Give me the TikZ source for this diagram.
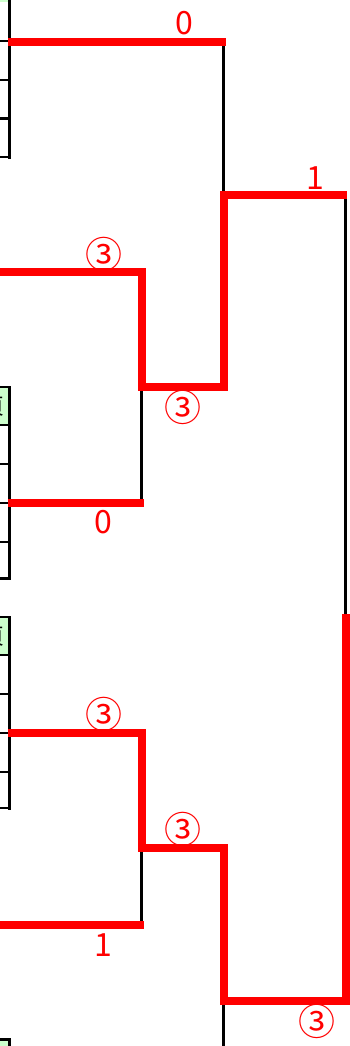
\documentclass[tikz,border=0pt]{standalone}
\usepackage{fontspec}
\newfontfamily\jpfont{Noto Sans CJK JP}
\definecolor{winred}{RGB}{255,0,0}
\definecolor{hdrgreen}{RGB}{204,255,204}
\begin{document}
\begin{tikzpicture}[x=1pt,y=-1pt,
  thinline/.style={draw=black,line width=3pt},
  winline/.style={draw=winred,line width=8pt,line join=miter},
  tickline/.style={draw=black,line width=2.6pt},
  score/.style={text=winred,font=\jpfont\fontsize{32}{32}\selectfont,inner sep=0pt,anchor=center},
  circscore/.style={text=winred,font=\jpfont\fontsize{37}{37}\selectfont,inner sep=0pt,anchor=center}]
\useasboundingbox (0,0) rectangle (350,1046);
\begin{scope}
\clip (0,0) rectangle (350,1046);
% ---- left table fragments ----
\fill[hdrgreen] (-20,-40) rectangle (8,2.5);
\fill[hdrgreen] (-20,388) rectangle (8,424);
\fill[hdrgreen] (-20,618) rectangle (8,654);
\fill[hdrgreen] (-20,1040) rectangle (8,1060);
\node[font=\jpfont\fontsize{22}{22}\selectfont,inner sep=0pt,anchor=east] (hdrA) at (4.5,407) {頁};
\node[font=\jpfont\fontsize{22}{22}\selectfont,inner sep=0pt,anchor=east] (hdrB) at (4.5,637) {頁};
\draw[thinline] (9.5,-5) -- (9.5,158.5);
\foreach \yy in {41,80,118.5,157} \draw[tickline] (-2,\yy) -- (9.5,\yy);
\draw[thinline] (9.5,386) -- (9.5,580);
\foreach \yy in {387,425,464,503,542,578.5} \draw[tickline] (-2,\yy) -- (9.5,\yy);
\draw[thinline] (9.5,616) -- (9.5,809.5);
\foreach \yy in {617,655,694,733,772,808} \draw[tickline] (-2,\yy) -- (9.5,\yy);
\draw[thinline] (9.5,1038) -- (9.5,1060);
\draw[tickline] (-2,1039.5) -- (9.5,1039.5);
% ---- bracket junctions ----
\coordinate (a1) at (8,42);
\coordinate (j1) at (223.5,42);
\coordinate (a2) at (0,272);
\coordinate (c2) at (141.5,272);
\coordinate (m1) at (141.5,387);
\coordinate (m1r) at (223.5,387);
\coordinate (s1) at (223.5,195);
\coordinate (s1r) at (347,195);
\coordinate (f1) at (345.5,195);
\coordinate (f2) at (345.5,614);
\coordinate (fb) at (345.5,1001);
\coordinate (s2) at (223.5,1001);
\coordinate (m2r) at (223.5,848);
\coordinate (m2) at (141.5,848);
\coordinate (c3) at (141.5,733);
\coordinate (a3) at (8,733);
\coordinate (a4) at (8,503);
\coordinate (c4) at (144,503);
\coordinate (a5) at (0,925);
\coordinate (c5) at (144,925);
\coordinate (b5) at (141.5,925);
\coordinate (b4) at (141.5,503);
\coordinate (low) at (223.5,1060);
% ---- thin (losing) lines ----
\draw[thinline] (j1) -- (s1);
\draw[thinline] (f1) -- (f2);
\draw[thinline] (m1) -- (b4);
\draw[thinline] (m2) -- (b5);
\draw[thinline] (s2) -- (low);
% ---- red (winning) lines ----
\draw[winline] (a1) -- (225.5,42);
\draw[winline] (a2) -- (c2) -- (m1) -- (m1r) -- (s1) -- (s1r);
\draw[winline] (f2) -- (fb) -- (s2) -- (m2r) -- (m2) -- (c3) -- (a3);
\draw[winline] (a4) -- (c4);
\draw[winline] (a5) -- (c5);
\end{scope}
% ---- scores ----
\node[score] (l1) at (184,23) {0};
\node[score] (l2) at (315,178) {1};
\node[circscore] (l3) at (103.5,254) {③};
\node[circscore] (l4) at (182.5,407) {③};
\node[score] (l5) at (103,522) {0};
\node[circscore] (l6) at (103.5,714) {③};
\node[circscore] (l7) at (183,829) {③};
\node[score] (l8) at (103,945) {1};
\node[circscore] (l9) at (317,1021) {③};
\end{tikzpicture}
\end{document}
